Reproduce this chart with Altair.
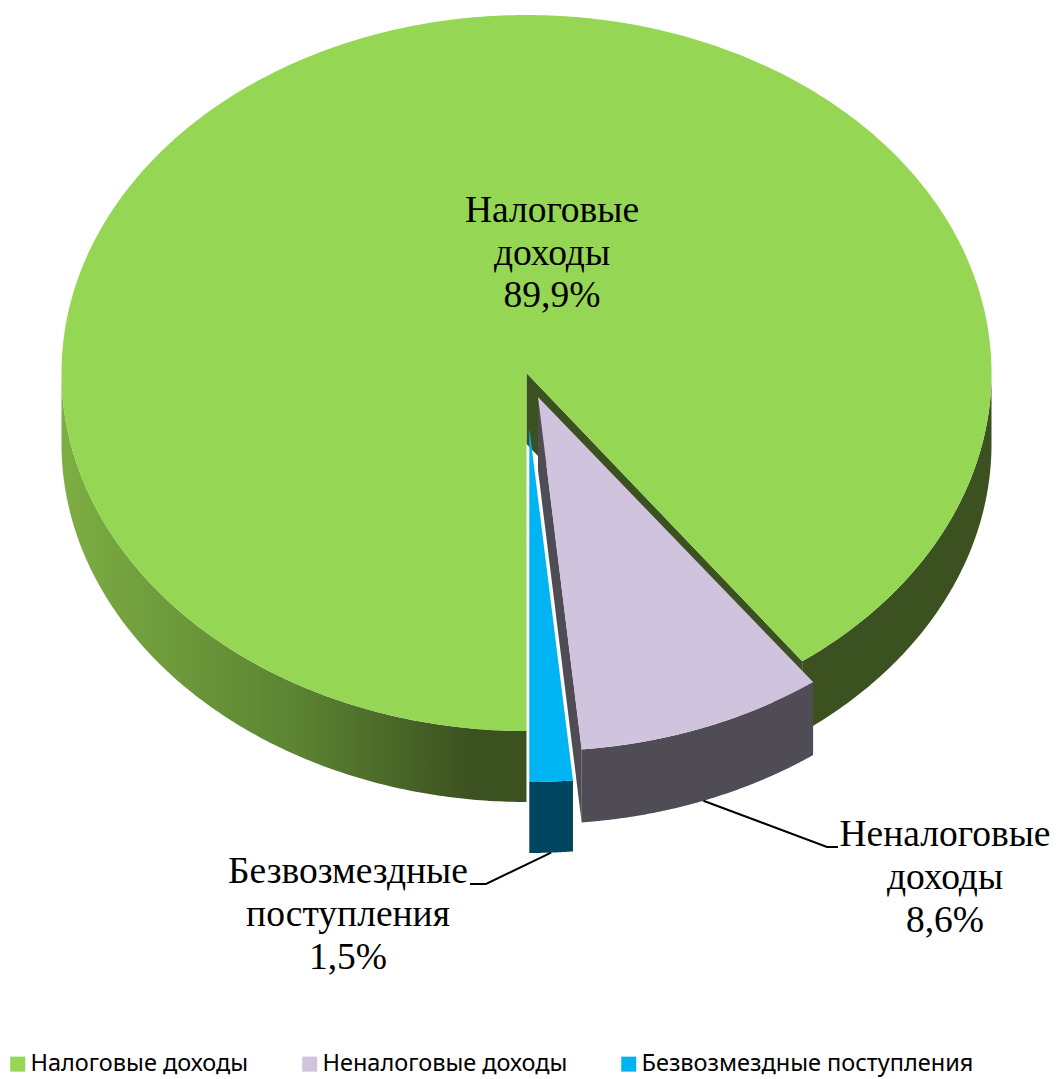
import numpy as np
import pandas as pd
import altair as alt

CATEGORIES = ["Налоговые доходы", "Неналоговые доходы", "Безвозмездные поступления"]
SHARES = [89.9, 8.6, 1.5]
TOP_COLORS = ["#95D654", "#CFC3DD", "#00B3F3"]
WALL_COLORS = ["#3C5120", "#4F4C55", "#00455F"]

LABEL_LINES = [
    ["Налоговые", "доходы", "89,9%"],
    ["Неналоговые", "доходы", "8,6%"],
    ["Безвозмездные", "поступления", "1,5%"],
]
LABEL_X = [552, 945, 348]
LABEL_Y = [[211, 254, 296], [835, 878, 921], [872, 915, 958]]

W, H = 1043, 1071
FONT_LABEL = "Liberation Serif"
FONT_LEGEND = "Noto Sans"

# Pie geometry: angles (clockwise from the top) follow from the shares
A0 = 180.0
spans = [s / 100 * 360 for s in SHARES]
main_start = A0
main_end = A0 + spans[0]
tax_start = main_end - 360
tax_end = tax_start + spans[1]
free_start = tax_end
free_end = free_start + spans[2]

CX = [526.5, 538.0, 529.3]
CY = [373.0, 397.0, 428.0]
RX = [465.0, 464.0, 464.0]
RY = [358.0, 354.0, 354.0]
DEPTH = [71.0, 73.0, 71.0]


def arc(k, a, b, n=160, dy=0.0):
    t = np.radians(np.linspace(a, b, n))
    return list(CX[k] + RX[k] * np.sin(t)), list(CY[k] - RY[k] * np.cos(t) + dy)


def poly(part, xs, ys, **extra):
    return pd.DataFrame({"x": xs, "y": ys, "i": range(len(xs)), "part": part, **extra})


def wall(part, k, a, b, color):
    x1, y1 = arc(k, a, b)
    x2, y2 = arc(k, b, a, dy=DEPTH[k])
    return poly(part, x1 + x2, y1 + y2, color=color)


def inner_wall(part, k, a, color):
    x, y = arc(k, a, a, n=1)
    return poly(part,
                [CX[k], x[0], x[0], CX[k]],
                [CY[k], y[0], y[0] + DEPTH[k], CY[k] + DEPTH[k]],
                color=color)


def top(k, a, b):
    x, y = arc(k, a, b, n=500)
    return poly(CATEGORIES[k], [CX[k]] + x + [CX[k]], [CY[k]] + y + [CY[k]], name=CATEGORIES[k])


X = alt.X("x:Q", axis=None, scale=alt.Scale(domain=[8, 8 + W], range=[0, W], nice=False, zero=False))
Y = alt.Y("y:Q", axis=None, scale=alt.Scale(domain=[8 + H, 8], range=[H, 0], nice=False, zero=False))


def enc(base):
    return base.encode(x=X, y=Y, order=alt.Order("i:Q"), detail="part:N")


# Left outer wall of the large slice, shaded from light to dark
left_wall = wall("left", 0, 180, 270, WALL_COLORS[0])
left_layer = enc(alt.Chart(left_wall).mark_line(
    strokeWidth=0,
    fill=alt.Gradient(
        gradient="linear", x1=0, x2=1, y1=0, y2=0,
        stops=[
            alt.GradientStop(color="#7DAE43", offset=0),
            alt.GradientStop(color="#5C8432", offset=0.5),
            alt.GradientStop(color=WALL_COLORS[0], offset=0.88),
            alt.GradientStop(color=WALL_COLORS[0], offset=1),
        ],
    ),
))

walls = pd.concat([
    inner_wall("main_in", 0, tax_start, WALL_COLORS[0]),
    wall("main_r", 0, 90, tax_start, WALL_COLORS[0]),
    inner_wall("tax_in", 1, tax_end, WALL_COLORS[1]),
    wall("tax_out", 1, tax_start, tax_end, WALL_COLORS[1]),
    wall("free_out", 2, free_start, free_end, WALL_COLORS[2]),
])
wall_layer = enc(alt.Chart(walls).mark_line(strokeWidth=0)).encode(
    fill=alt.Fill("color:N", scale=None, legend=None)
)

tops = pd.concat([top(0, main_start, main_end), top(1, tax_start, tax_end), top(2, free_start, free_end)])
top_layer = enc(alt.Chart(tops).mark_line(strokeWidth=0)).encode(
    fill=alt.Fill(
        "name:N",
        scale=alt.Scale(domain=CATEGORIES, range=TOP_COLORS),
        legend=alt.Legend(
            title=None, orient="none", legendX=-2, legendY=1044, direction="horizontal",
            symbolType="square", symbolSize=225, symbolStrokeWidth=0, padding=0,
            labelFont=FONT_LEGEND, labelFontSize=23.5, labelColor="#000000",
            labelOffset=1, columnPadding=49, labelLimit=500, symbolOpacity=1,
        ),
    )
)

# Leader lines start on the outer wall at the middle of each slice
tax_mid = np.radians((tax_start + tax_end) / 2)
free_mid = np.radians((free_start + free_end) / 2)
leaders = pd.DataFrame({
    "part": ["a", "a", "a", "b", "b", "b"],
    "i": [0, 1, 2, 0, 1, 2],
    "x": [CX[1] + RX[1] * np.sin(tax_mid), 827, 838, CX[2] + RX[2] * np.sin(free_mid), 486, 470],
    "y": [CY[1] - RY[1] * np.cos(tax_mid) + DEPTH[1], 847, 847,
          CY[2] - RY[2] * np.cos(free_mid) + DEPTH[2], 884, 884],
})
leader_layer = enc(alt.Chart(leaders).mark_line(stroke="#000000", strokeWidth=2))

labels = pd.DataFrame([
    {"x": LABEL_X[k], "y": LABEL_Y[k][j], "t": LABEL_LINES[k][j]}
    for k in range(3) for j in range(3)
])
label_layer = alt.Chart(labels).mark_text(
    font=FONT_LABEL, fontSize=37.5, color="#000000", align="center", baseline="middle"
).encode(x=X, y=Y, text="t:N")

chart = (
    alt.layer(wall_layer, left_layer, top_layer, leader_layer, label_layer)
    .resolve_scale(fill="independent")
    .properties(width=W, height=H, padding=0, autosize="none", background="#FFFFFF")
    .configure_view(stroke=None)
)
chart.save("out.html", embed_options={"renderer": "svg", "actions": False})
